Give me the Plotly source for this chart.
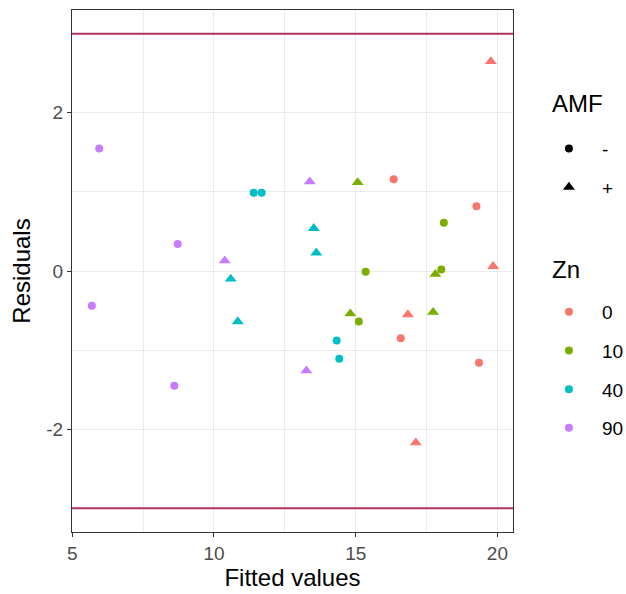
import plotly.graph_objects as go

# ---- data ----
zn_levels = ["0", "10", "40", "90"]
zn_colors = ["#F8766D", "#7CAE00", "#00BFC4", "#C77CFF"]
amf_levels = ["-", "+"]
amf_symbols = ["circle", "triangle-up"]

# fitted values / residuals by Zn level and AMF level
fitted = {
    ("0", "-"): [16.34, 19.26, 16.59, 19.35],
    ("0", "+"): [19.77, 19.85, 16.84, 17.12],
    ("10", "-"): [18.11, 15.35, 18.02, 15.11],
    ("10", "+"): [15.07, 17.81, 14.81, 17.73],
    ("40", "-"): [11.40, 11.68, 14.33, 14.42],
    ("40", "+"): [10.59, 13.52, 13.61, 10.84],
    ("90", "-"): [5.95, 8.72, 5.69, 8.60],
    ("90", "+"): [10.38, 13.38, 13.26],
}
resid = {
    ("0", "-"): [1.16, 0.82, -0.85, -1.16],
    ("0", "+"): [2.65, 0.06, -0.55, -2.17],
    ("10", "-"): [0.61, -0.01, 0.02, -0.64],
    ("10", "+"): [1.12, -0.04, -0.54, -0.52],
    ("40", "-"): [0.99, 0.99, -0.88, -1.11],
    ("40", "+"): [-0.10, 0.54, 0.23, -0.64],
    ("90", "-"): [1.55, 0.34, -0.44, -1.45],
    ("90", "+"): [0.13, 1.13, -1.26],
}
ref_lines = [3, -3]
x_ticks = [5, 10, 15, 20]
y_ticks = [-2, 0, 2]
y_ticktext = ["-2", "0", "2"]

FONT = "Liberation Sans, Arial, sans-serif"
TICK = 19
TITLE = 24
fig = go.Figure()

for zi, z in enumerate(zn_levels):
    for ai, a in enumerate(amf_levels):
        fig.add_trace(go.Scatter(
            x=fitted[(z, a)], y=resid[(z, a)], mode="markers",
            marker=dict(color=zn_colors[zi], symbol=amf_symbols[ai],
                        size=8 if ai == 0 else 10.5, line=dict(width=0)),
            showlegend=False, hoverinfo="x+y"))

# legend entries: AMF (shape) and Zn (colour)
for ai, a in enumerate(amf_levels):
    fig.add_trace(go.Scatter(
        x=[None], y=[None], mode="markers", name=a,
        marker=dict(color="black", symbol=amf_symbols[ai],
                    size=8 if ai == 0 else 10.5),
        legend="legend", legendgroup="amf" + a, showlegend=True))
for zi, z in enumerate(zn_levels):
    fig.add_trace(go.Scatter(
        x=[None], y=[None], mode="markers", name=z,
        marker=dict(color=zn_colors[zi], symbol="circle", size=8),
        legend="legend2", legendgroup="zn" + z, showlegend=True))

for yv in ref_lines:
    fig.add_hline(y=yv, line=dict(color="#B03060", width=2), layer="above")

axis_common = dict(
    showline=True, linecolor="#333333", linewidth=1.1, mirror=True,
    showgrid=True, gridcolor="#EBEBEB", gridwidth=1.1,
    ticks="outside", ticklen=4, tickwidth=1.1, tickcolor="#333333",
    tickfont=dict(family=FONT, size=TICK, color="#4D4D4D"),
    zeroline=False, automargin=False,
)

fig.update_xaxes(**axis_common, range=[4.99, 20.55], tickmode="array",
                 tickvals=x_ticks,
                 minor=dict(tickmode="linear", tick0=5, dtick=2.5, showgrid=True,
                            gridcolor="#EBEBEB", gridwidth=0.55, ticks=""),
                 title=dict(text="Fitted values",
                            font=dict(family=FONT, size=TITLE, color="black"),
                            standoff=2))
fig.update_yaxes(**axis_common, range=[-3.3, 3.3], tickmode="array",
                 tickvals=y_ticks, ticktext=y_ticktext,
                 minor=dict(tickmode="linear", tick0=1, dtick=2, showgrid=True,
                            gridcolor="#EBEBEB", gridwidth=0.55, ticks=""),
                 title=dict(text="Residuals",
                            font=dict(family=FONT, size=TITLE, color="black"),
                            standoff=8))

leg_common = dict(
    bgcolor="rgba(0,0,0,0)", borderwidth=0, itemwidth=56,
    font=dict(family=FONT, size=TICK, color="black"),
    tracegroupgap=11, xanchor="left", yanchor="top",
    itemclick=False, itemdoubleclick=False,
)

fig.update_layout(
    width=626, height=594,
    margin=dict(l=72, r=113, t=10, b=62, autoexpand=False),
    plot_bgcolor="white", paper_bgcolor="white",
    font=dict(family=FONT, color="black"),
    legend=dict(**leg_common, x=1.052, y=0.771),
    legend2=dict(**leg_common, x=1.052, y=0.458),
    annotations=[
        dict(text="AMF", xref="paper", yref="paper", x=1.083, y=0.82,
             xanchor="left", yanchor="middle", showarrow=False,
             font=dict(family=FONT, size=TITLE, color="black")),
        dict(text="Zn", xref="paper", yref="paper", x=1.083, y=0.502,
             xanchor="left", yanchor="middle", showarrow=False,
             font=dict(family=FONT, size=TITLE, color="black")),
    ],
)

fig.write_html("out.html")
